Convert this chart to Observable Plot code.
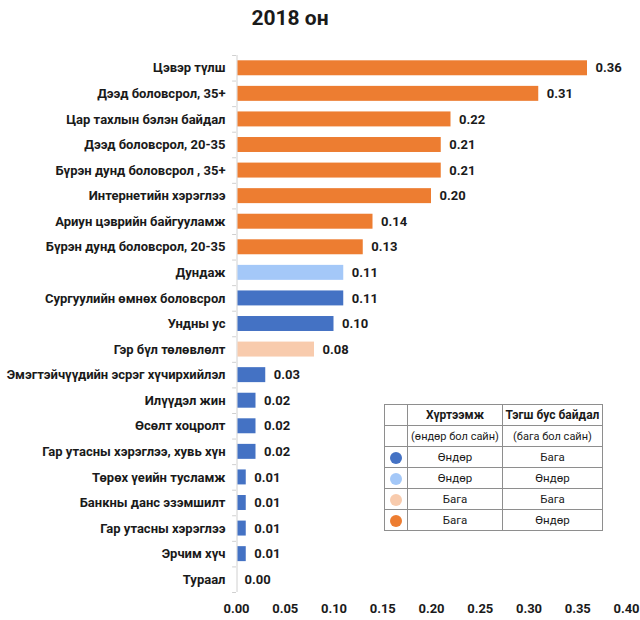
<!DOCTYPE html>
<html>
<head>
<meta charset="utf-8">
<script src="https://cdn.jsdelivr.net/npm/d3@7"></script>
<script src="https://cdn.jsdelivr.net/npm/@observablehq/plot@0.6"></script>
<style>
  html, body { margin: 0; padding: 0; background: #fff; }
  body { width: 640px; height: 620px; position: relative; font-family: Roboto, "Noto Sans", sans-serif; color: #1a1a1a; }
  #title { position: absolute; left: 190px; width: 200px; top: 5px; text-align: center; font-size: 21px; font-weight: bold; line-height: 26px; }
  #chart { position: absolute; left: 0; top: 38px; }
  #legend { position: absolute; left: 384px; top: 404px; border-collapse: collapse; font-size: 11.5px; background: #fff; }
  #legend td { border: 1px solid #8e8e8e; height: 20px; padding: 0; text-align: center; vertical-align: middle; }
  #legend td.dotcell { width: 22px; }
  #legend td.c2 { width: 94px; }
  #legend td.c3 { width: 99px; }
  #legend tr.head td { font-weight: bold; font-size: 12px; }
  #legend tr.sub td { font-size: 11px; }
  .dot { display: inline-block; width: 12px; height: 12px; border-radius: 50%; vertical-align: middle; }
</style>
</head>
<body>
<div id="title"></div>
<div id="chart"></div>
<table id="legend"></table>
<script>
const title = "2018 он";

const names = [
  "Цэвэр түлш",
  "Дээд боловсрол, 35+",
  "Цар тахлын бэлэн байдал",
  "Дээд боловсрол, 20-35",
  "Бүрэн дунд боловсрол , 35+",
  "Интернетийн хэрэглээ",
  "Ариун цэврийн байгууламж",
  "Бүрэн дунд боловсрол, 20-35",
  "Дундаж",
  "Сургуулийн өмнөх боловсрол",
  "Ундны ус",
  "Гэр бүл төлөвлөлт",
  "Эмэгтэйчүүдийн эсрэг хүчирхийлэл",
  "Илүүдэл жин",
  "Өсөлт хоцролт",
  "Гар утасны хэрэглээ, хувь хүн",
  "Төрөх үеийн тусламж",
  "Банкны данс эзэмшилт",
  "Гар утасны хэрэглээ",
  "Эрчим хүч",
  "Тураал"
];

const values = [0.36, 0.31, 0.22, 0.21, 0.21, 0.20, 0.14, 0.13, 0.11, 0.11, 0.10, 0.08, 0.03, 0.02, 0.02, 0.02, 0.01, 0.01, 0.01, 0.01, 0.00];

// group key: coverage level / inequality level
const groups = [
  "low-high", "low-high", "low-high", "low-high", "low-high", "low-high", "low-high", "low-high",
  "high-high", "high-low", "high-low", "low-low",
  "high-low", "high-low", "high-low", "high-low", "high-low", "high-low", "high-low", "high-low", "high-low"
];

const groupKeys = ["high-low", "high-high", "low-low", "low-high"];
const groupColors = ["#4472c4", "#a4c8f8", "#f8cbad", "#ed7d31"];

const xTicks = [0, 0.05, 0.10, 0.15, 0.20, 0.25, 0.30, 0.35, 0.40];

const legendHeader = ["Хүртээмж", "Тэгш бус байдал"];
const legendSub = ["(өндөр бол сайн)", "(бага бол сайн)"];
const legendCoverage = ["Өндөр", "Өндөр", "Бага", "Бага"];
const legendInequality = ["Бага", "Өндөр", "Бага", "Өндөр"];

document.getElementById("title").textContent = title;

const data = names.map((name, i) => ({name, value: values[i], group: groups[i]}));
const fmt = d3.format(".2f");

const plot = Plot.plot({
  width: 640,
  height: 582,
  marginLeft: 236,
  marginRight: 14,
  marginTop: 17,
  marginBottom: 28,
  style: {fontFamily: "Roboto, sans-serif", fontSize: "13px", fontWeight: "bold", color: "#1a1a1a", background: "transparent"},
  x: {domain: [0, 0.40], ticks: xTicks},
  y: {domain: names, padding: 0, round: false},
  color: {domain: groupKeys, range: groupColors},
  marks: [
    Plot.ruleX([0], {stroke: "#d0d0d0", dx: 0.5}),
    Plot.ruleY(names, {y: d => d, x1: -0.004, x2: 0, stroke: "#d0d0d0", dy: -12.8}),
    Plot.ruleY([names[names.length - 1]], {y: d => d, x1: -0.004, x2: 0, stroke: "#d0d0d0", dy: 12.8}),
    Plot.barX(data, {x: "value", y: "name", fill: "group", insetLeft: 1.5, insetTop: 5.3, insetBottom: 5.3}),
    Plot.text(data, {x: "value", y: "name", text: d => fmt(d.value), dx: 8, textAnchor: "start", fill: "#1a1a1a", fontWeight: "bold", fontSize: 13}),
    Plot.axisX({ticks: xTicks, tickFormat: fmt, tickSize: 0, tickPadding: 11, label: null}),
    Plot.axisY({tickSize: 0, tickPadding: 11, label: null})
  ]
});
document.getElementById("chart").appendChild(plot);

// Legend table
const table = document.getElementById("legend");
const rows = [];
rows.push(`<tr class="head"><td class="dotcell"></td><td class="c2">${legendHeader[0]}</td><td class="c3">${legendHeader[1]}</td></tr>`);
rows.push(`<tr class="sub"><td class="dotcell"></td><td class="c2">${legendSub[0]}</td><td class="c3">${legendSub[1]}</td></tr>`);
groupKeys.forEach((k, i) => {
  rows.push(`<tr><td class="dotcell"><span class="dot" style="background:${groupColors[i]}"></span></td><td class="c2">${legendCoverage[i]}</td><td class="c3">${legendInequality[i]}</td></tr>`);
});
table.innerHTML = rows.join("");
</script>
</body>
</html>
